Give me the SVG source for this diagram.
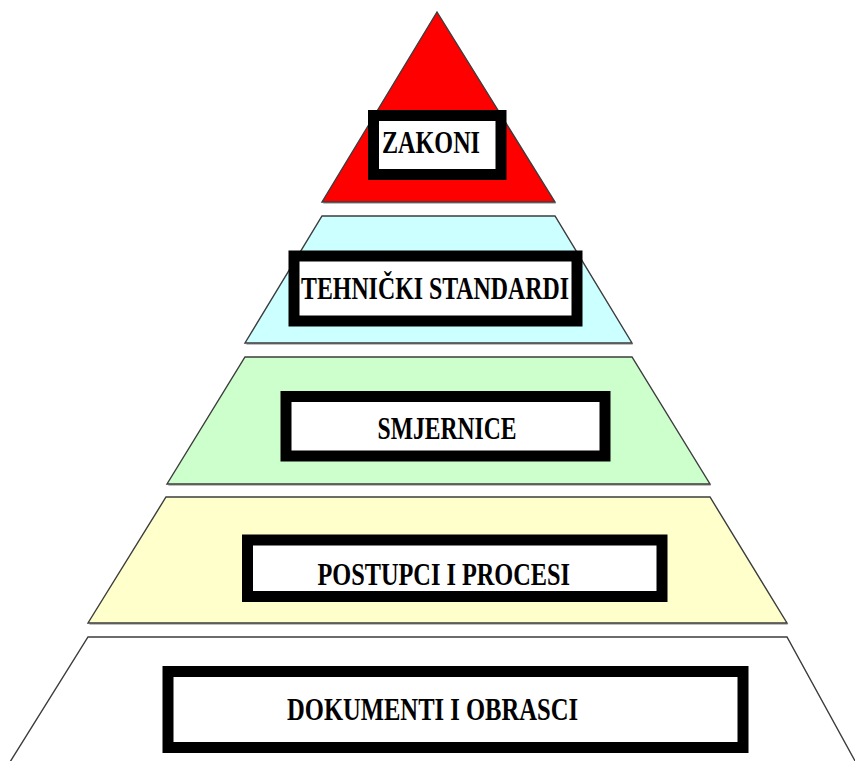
<svg xmlns="http://www.w3.org/2000/svg" width="855" height="761" viewBox="0 0 855 761">
  <style>
    .band { stroke: #3c3c3c; stroke-width: 1.4; stroke-linejoin: miter; }
    .shadow { fill: #8a8a8a; opacity: 0.55; }
    .box { fill: #ffffff; stroke: #000000; stroke-width: 11; }
    .lbl { font-family: "Liberation Serif", "Times New Roman", serif; font-weight: bold; font-size: 32px; fill: #000000; }
  </style>
  <rect x="0" y="0" width="855" height="761" fill="#ffffff"/>
  <g id="shadows">
    <polygon class="shadow" points="438,14 556,204 323,204"/>
    <polygon class="shadow" points="323,218 556,218 633,345 246,345"/>
    <polygon class="shadow" points="246,359 633,359 711,486 168,486"/>
    <polygon class="shadow" points="167,499 711,499 788,625 89,625"/>
    <polygon class="shadow" points="89,639 788,639 861,772 6,772"/>
  </g>
  <g id="zakoni">
    <polygon class="band" fill="#ff0000" points="437,12 555,202 322,202"/>
    <rect class="box" x="373.5" y="115.5" width="127.5" height="59"/>
    <text class="lbl" x="382" y="153.3" textLength="98" lengthAdjust="spacingAndGlyphs">ZAKONI</text>
  </g>
  <g id="tehnicki-standardi">
    <polygon class="band" fill="#ccffff" points="322,216 555,216 632,343 245,343"/>
    <rect class="box" x="294" y="256" width="283" height="65"/>
    <text class="lbl" x="301" y="299" textLength="268" lengthAdjust="spacingAndGlyphs">TEHNIČKI STANDARDI</text>
  </g>
  <g id="smjernice">
    <polygon class="band" fill="#ccffcc" points="245,357 632,357 710,484 167,484"/>
    <rect class="box" x="286" y="396.5" width="319" height="59.5"/>
    <text class="lbl" x="377.5" y="438.5" textLength="139" lengthAdjust="spacingAndGlyphs">SMJERNICE</text>
  </g>
  <g id="postupci-i-procesi">
    <polygon class="band" fill="#ffffcc" points="166,497 710,497 787,623 88,623"/>
    <rect class="box" x="247.5" y="540" width="414.5" height="56.5"/>
    <text class="lbl" x="317.5" y="585" textLength="252.5" lengthAdjust="spacingAndGlyphs">POSTUPCI I PROCESI</text>
  </g>
  <g id="dokumenti-i-obrasci">
    <polygon class="band" fill="#ffffff" points="88,637 787,637 860,770 5,770"/>
    <rect class="box" x="168" y="671.5" width="575" height="76"/>
    <text class="lbl" x="287" y="720" textLength="291" lengthAdjust="spacingAndGlyphs">DOKUMENTI I OBRASCI</text>
  </g>
  <g id="connectors"/>
</svg>
